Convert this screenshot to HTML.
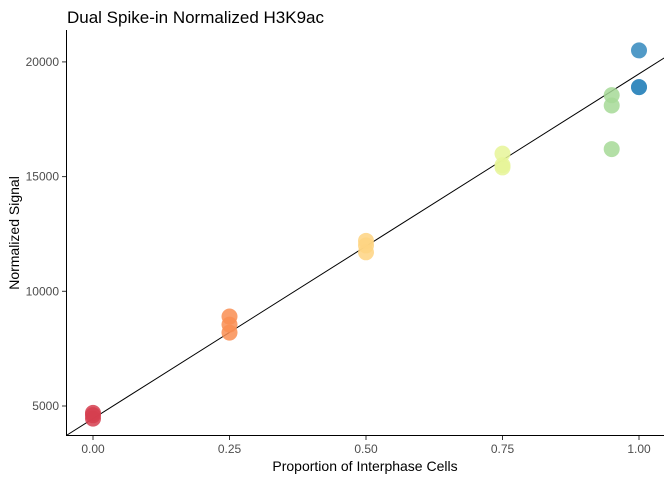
<!DOCTYPE html>
<html><head><meta charset="utf-8"><style>
body{margin:0;background:#fff;font-family:"Liberation Sans",sans-serif}
</style></head><body>
<svg id="c" width="672" height="480" xmlns="http://www.w3.org/2000/svg">
<defs><clipPath id="clip"><rect x="67" y="30" width="597" height="405"/></clipPath></defs>
<text x="67" y="23" font-size="17" fill="#000">Dual Spike-in Normalized H3K9ac</text>
<g id="pts" clip-path="url(#clip)"></g>
<g id="ax"></g>
<text x="365" y="471" font-size="14" text-anchor="middle" fill="#000">Proportion of Interphase Cells</text>
<text transform="translate(19,233) rotate(-90)" font-size="14" text-anchor="middle" fill="#000">Normalized Signal</text>
</svg>
<script>
const xs = [0,0,0,0.25,0.25,0.25,0.5,0.5,0.5,0.75,0.75,0.75,0.95,0.95,0.95,1,1,1];
const ys = [4450,4600,4700,8200,8550,8900,11700,12000,12200,15400,15500,16000,16200,18100,18550,18900,18900,20500];
const colors = ["#d53e4f","#d53e4f","#d53e4f","#f98e52","#f98e52","#f98e52","#fed481","#fed481","#fed481","#e6f598","#e6f598","#e6f598","#a6d996","#a6d996","#a6d996","#3288bd","#3288bd","#3288bd"];
const lineIntercept = [4450];
const lineSlope = [15030];
const xTicks = [0,0.25,0.5,0.75,1];
const xLabels = ["0.00","0.25","0.50","0.75","1.00"];
const yTicks = [5000,10000,15000,20000];
const yLabels = ["5000","10000","15000","20000"];
const X = v => 93 + v*546;
const Y = v => 406 - (v-5000)*0.02294;
const NS="http://www.w3.org/2000/svg";
const pts=document.getElementById('pts'), ax=document.getElementById('ax');
function mk(t,a,p){const e=document.createElementNS(NS,t);for(const k in a)e.setAttribute(k,a[k]);p.appendChild(e);return e;}
const a0=lineIntercept[0], b=lineSlope[0];
const x0=-0.1,x1=1.1;
const ln=mk('line',{x1:X(x0),y1:Y(a0+b*x0),x2:X(x1),y2:Y(a0+b*x1),stroke:'#000','stroke-width':1},pts);


for(let i=0;i<xs.length;i++){
 const c=mk('circle',{cx:X(xs[i]),cy:Y(ys[i]),r:8,fill:colors[i],'fill-opacity':0.85},pts);
 
 
}
const xl=mk('line',{x1:67,y1:435.5,x2:664,y2:435.5,stroke:'#000','stroke-width':1},ax);


const yl=mk('line',{x1:66.5,y1:30,x2:66.5,y2:436,stroke:'#000','stroke-width':1},ax);


xTicks.forEach((v,i)=>{
 mk('line',{x1:X(v),y1:436,x2:X(v),y2:440,stroke:'#333'},ax);
 const t=mk('text',{x:X(v),y:453,'font-size':12,fill:'#4d4d4d','text-anchor':'middle'},ax);
 t.textContent=xLabels[i];
 
 
});
yTicks.forEach((v,i)=>{
 mk('line',{x1:62,y1:Y(v),x2:66,y2:Y(v),stroke:'#333'},ax);
 const t=mk('text',{x:59,y:Y(v)+4,'font-size':12,fill:'#4d4d4d','text-anchor':'end'},ax);
 t.textContent=yLabels[i];
 
 
});
</script>
</body></html>
